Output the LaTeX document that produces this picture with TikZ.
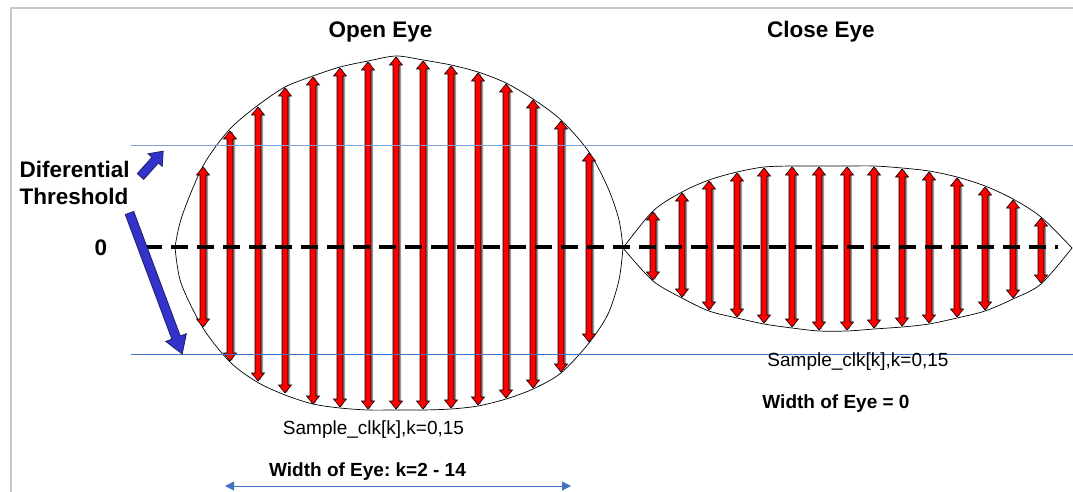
\documentclass[tikz,border=0pt]{standalone}
\usepackage{fontspec}
\setmainfont{Liberation Sans}
\frenchspacing
\usetikzlibrary{arrows.meta}
\definecolor{thrlight}{HTML}{7F9FD8}
\definecolor{thrdark}{HTML}{4472C4}
\definecolor{bluefill}{HTML}{3333CC}
\definecolor{blueedge}{HTML}{1F1F66}
\definecolor{framegray}{HTML}{C8C8C8}
\tikzset{
  eyeline/.style={black, line width=0.7pt},
  sample/.style={fill=red, draw=black, line width=0.6pt, line join=miter},
  sampleshadow/.style={fill=black!40},
  thr/.style={line width=0.9pt},
  blockarrow/.style={fill=bluefill, draw=blueedge, line width=0.8pt, line join=miter},
  titletext/.style={font=\fontsize{22.5}{26}\selectfont\bfseries, anchor=base},
  sidetext/.style={font=\fontsize{22.5}{26}\selectfont\bfseries, anchor=base west},
  clktext/.style={font=\fontsize{19}{22}\selectfont, anchor=base},
  widthtext/.style={font=\fontsize{19}{22}\selectfont\bfseries, anchor=base}
}
\begin{document}
\begin{tikzpicture}[x=1pt, y=-1pt]
  \useasboundingbox (0,0) rectangle (1073,492);
  \draw[framegray, line width=2pt] (11,492) -- (11,8) -- (1073,8);
  % open eye outline
  \draw[eyeline] plot[smooth, tension=0.5] coordinates {(175,247) (182,216)
    (203,166) (229,130) (257,106) (285,87) (313,76) (340,67) (368,61) (396,56) (423,60) (451,65)
    (478,72) (506,83) (533,99) (561,120) (589,152) (608,188) (619,220) (623,248)};
  \draw[eyeline] plot[smooth, tension=0.5] coordinates {(175,247) (181,283) (203,328)
    (230,362) (257,382) (285,395) (313,404) (340,408) (368,410) (396,410) (423,410) (451,409)
    (478,406) (506,399) (533,389) (561,373) (589,343) (608,314) (619,280) (623,248)};
  % close eye outline
  \draw[eyeline] plot[smooth, tension=0.5] coordinates {(623,248) (653,211) (682,192) (709,180)
    (737,172) (764,167) (792,166) (819,166) (847,166) (874,166) (902,168) (929,171) (957,177)
    (985,186) (1013,199) (1041,217) (1072,248)};
  \draw[eyeline] plot[smooth, tension=0.5] coordinates {(623,248) (653,281) (682,298) (709,311)
    (737,318) (764,324) (792,328) (819,331) (847,331) (874,329) (902,327) (929,324) (957,318)
    (985,311) (1013,299) (1041,284) (1072,248)};
  % sample arrows
  \def\sw{3}
  \def\hw{6.5}
  \def\hl{8}
  \foreach \x/\yt/\yb in {203/167/327, 230/131/361, 258/107/381, 285/88/393, 313/77/404,
                          340/68/407, 368/62/409, 396/57/409, 423/61/409, 451/66/408,
                          478/73/405, 506/84/398, 533/100/388, 561/121/372, 589/153/342,
                          653/212/280, 682/193/297, 709/181/310, 737/173/317, 764/168/323,
                          792/167/327, 819/167/330, 847/167/330, 874/167/328, 902/169/326,
                          929/172/323, 957/178/317, 985/187/310, 1013/200/298, 1041/218/283}{
    \fill[sampleshadow, xshift=2pt] ({\x-\sw},{\yt+\hl}) -- ({\x},{\yt}) -- ({\x+\sw},{\yt+\hl})
      -- ({\x+\sw},{\yb-\hl}) -- ({\x},{\yb}) -- ({\x-\sw},{\yb-\hl}) -- cycle;
    \filldraw[sample] ({\x-\sw},{\yt+\hl}) -- ({\x-\hw},{\yt+\hl}) -- ({\x},{\yt})
      -- ({\x+\hw},{\yt+\hl}) -- ({\x+\sw},{\yt+\hl}) -- ({\x+\sw},{\yb-\hl})
      -- ({\x+\hw},{\yb-\hl}) -- ({\x},{\yb}) -- ({\x-\hw},{\yb-\hl}) -- ({\x-\sw},{\yb-\hl}) -- cycle;
  }
  % thresholds and zero level
  \draw[thr, thrlight] (131,145) -- (1073,145);
  \draw[thr, thrdark] (131,354) -- (1073,354);
  \draw[black, line width=3.5pt, dash pattern=on 17pt off 9pt] (145,247) -- (1058,247);
  % threshold pointers
  \begin{scope}[shift={(140.5,176.5)}, rotate=48.2]
    \filldraw[blockarrow] (0,-4.3) -- (22,-4.3) -- (22,-9.5) -- (34,0) -- (22,9.5) -- (22,4.3) -- (0,4.3) -- cycle;
  \end{scope}
  \begin{scope}[shift={(129.5,213)}, rotate=-69.5]
    \filldraw[blockarrow] (0,-4.5) -- (133,-4.5) -- (133,-11) -- (150.5,0) -- (133,11) -- (133,4.5) -- (0,4.5) -- cycle;
  \end{scope}
  % labels
  \node[titletext] (open) at (380.5,37.5) {Open Eye};
  \node[titletext] (close) at (821,37.5) {Close Eye};
  \node[sidetext] (diff) at (16,177) {Diferential};
  \node[sidetext] (thres) at (16,204) {Threshold};
  \node[titletext] (zero) at (101,255) {0};
  \node[clktext] (clkopen) at (373.5,434) {Sample\_clk[k],k=0,15};
  \node[clktext] (clkclose) at (858,366) {Sample\_clk[k],k=0,15};
  \node[widthtext] (wopen) at (367.5,476) {Width of Eye: k=2 - 14};
  \node[widthtext] (wclose) at (836,408) {Width of Eye = 0};
  \coordinate (wl) at (225,486);
  \coordinate (wr) at (571,486);
  \draw[thrdark, line width=1pt, {Triangle[length=9pt,width=9pt]}-{Triangle[length=9pt,width=9pt]}] (wl) -- (wr);
\end{tikzpicture}
\end{document}
